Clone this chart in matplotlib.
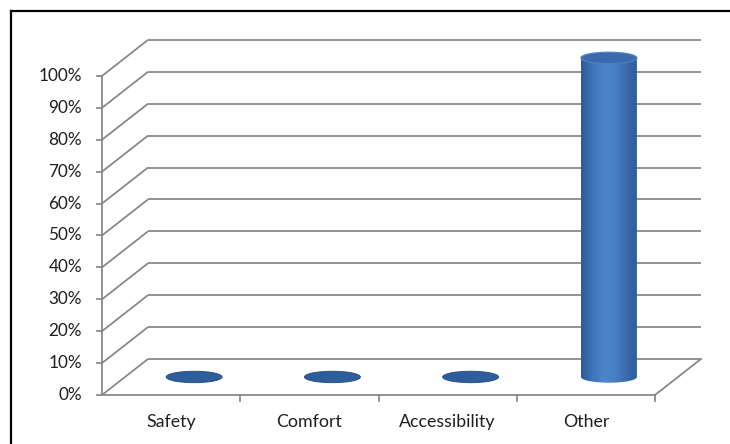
import matplotlib
matplotlib.use("Agg")
import matplotlib.pyplot as plt
import numpy as np
from matplotlib.patches import Ellipse, PathPatch
from matplotlib.path import Path
from matplotlib.lines import Line2D
from matplotlib.colors import to_rgb

categories = ["Safety", "Comfort", "Accessibility", "Other"]
values = [0, 0, 0, 100]
yticks = [0, 10, 20, 30, 40, 50, 60, 70, 80, 90, 100]
ytick_labels = ["0%", "10%", "20%", "30%", "40%", "50%", "60%", "70%", "80%", "90%", "100%"]

plt.rcParams['font.family'] = ['Lato', 'DejaVu Sans']

fig = plt.figure(figsize=(7.3, 4.44), dpi=100)
ax = fig.add_axes([0, 0, 1, 1])
ax.set_xlim(-0.7378, 4.5425)
ax.set_ylim(-15.36, 123.8)
ax.axis('off')

DX, DY = 0.333, 11.3     # depth offset (category units, percent units)
GRID = '#858585'
LW = 1.25
n = len(categories)

# gridlines: diagonal on left wall + horizontal on back wall
for v in yticks:
    ax.plot([0, DX], [v, v + DY], color=GRID, lw=LW, solid_capstyle='butt')
    ax.plot([DX, n + DX], [v + DY, v + DY], color=GRID, lw=LW, solid_capstyle='butt')

# floor front edge and right edge
ax.plot([0, n], [0, 0], color=GRID, lw=LW)
ax.plot([n, n + DX], [0, DY], color=GRID, lw=LW)
# vertical axis
ax.plot([0, 0], [0, yticks[-1]], color=GRID, lw=LW)
for v, lab in zip(yticks, ytick_labels):
    ax.plot([-0.036, 0], [v, v], color=GRID, lw=LW)
    ax.text(-0.145, v, lab, ha='right', va='center', fontsize=12.3, color='#1e1e1e')
# category ticks
for i in range(1, n + 1):
    ax.plot([i, i], [0, -1.9], color=GRID, lw=LW)
for i, c in enumerate(categories):
    ax.text(i + 0.5, -8.6, c, ha='center', va='center', fontsize=12.8, color='#1e1e1e')

# cylinders
W = 0.405
EH = 3.6
grad_cols = ['#2c5a9a', '#3d73b8', '#4c85ca', '#4880c4', '#3a6cae', '#2f5c9c']
grad = np.array([to_rgb(c) for c in grad_cols])
xs = np.linspace(0, 1, 200)
gimg = np.stack([np.interp(xs, np.linspace(0, 1, len(grad)), grad[:, k]) for k in range(3)], axis=-1)[None, :, :]

for i, v in enumerate(values):
    cx = i + 0.5 + DX / 2
    base = DY / 2
    top = base + v
    if v <= 0.5:
        e = Ellipse((cx, base), W, EH, facecolor='#2e5d9b', edgecolor='#24497c', lw=0.6, zorder=3)
        ax.add_patch(e)
        continue
    t = np.linspace(np.pi, 2 * np.pi, 60)
    verts = [(cx - W / 2, top)]
    verts += [(cx + W / 2 * np.cos(a), base + EH / 2 * np.sin(a)) for a in t]
    verts += [(cx + W / 2, top), (cx - W / 2, top)]
    codes = [Path.MOVETO] + [Path.LINETO] * (len(verts) - 2) + [Path.CLOSEPOLY]
    body = PathPatch(Path(verts, codes), facecolor='none', edgecolor='none', zorder=3)
    ax.add_patch(body)
    im = ax.imshow(gimg, extent=[cx - W / 2, cx + W / 2, base - EH / 2, top], aspect='auto',
                   origin='lower', zorder=3, interpolation='bilinear')
    im.set_clip_path(body)
    ax.add_patch(Ellipse((cx, top), W, EH, facecolor='#3b6bad', edgecolor='#4f82c4', lw=0.8, zorder=4))

ax.set_xlim(-0.7378, 4.5425)
ax.set_ylim(-15.36, 123.8)

# outer frame (extends past right and bottom edges)
fig.add_artist(Line2D([10.5 / 730, 10.5 / 730], [0, 1 - 11 / 444], transform=fig.transFigure, color='black', lw=1.6))
fig.add_artist(Line2D([10.5 / 730, 1], [1 - 11 / 444, 1 - 11 / 444], transform=fig.transFigure, color='black', lw=1.6))

fig.savefig('out.png', dpi=100)
